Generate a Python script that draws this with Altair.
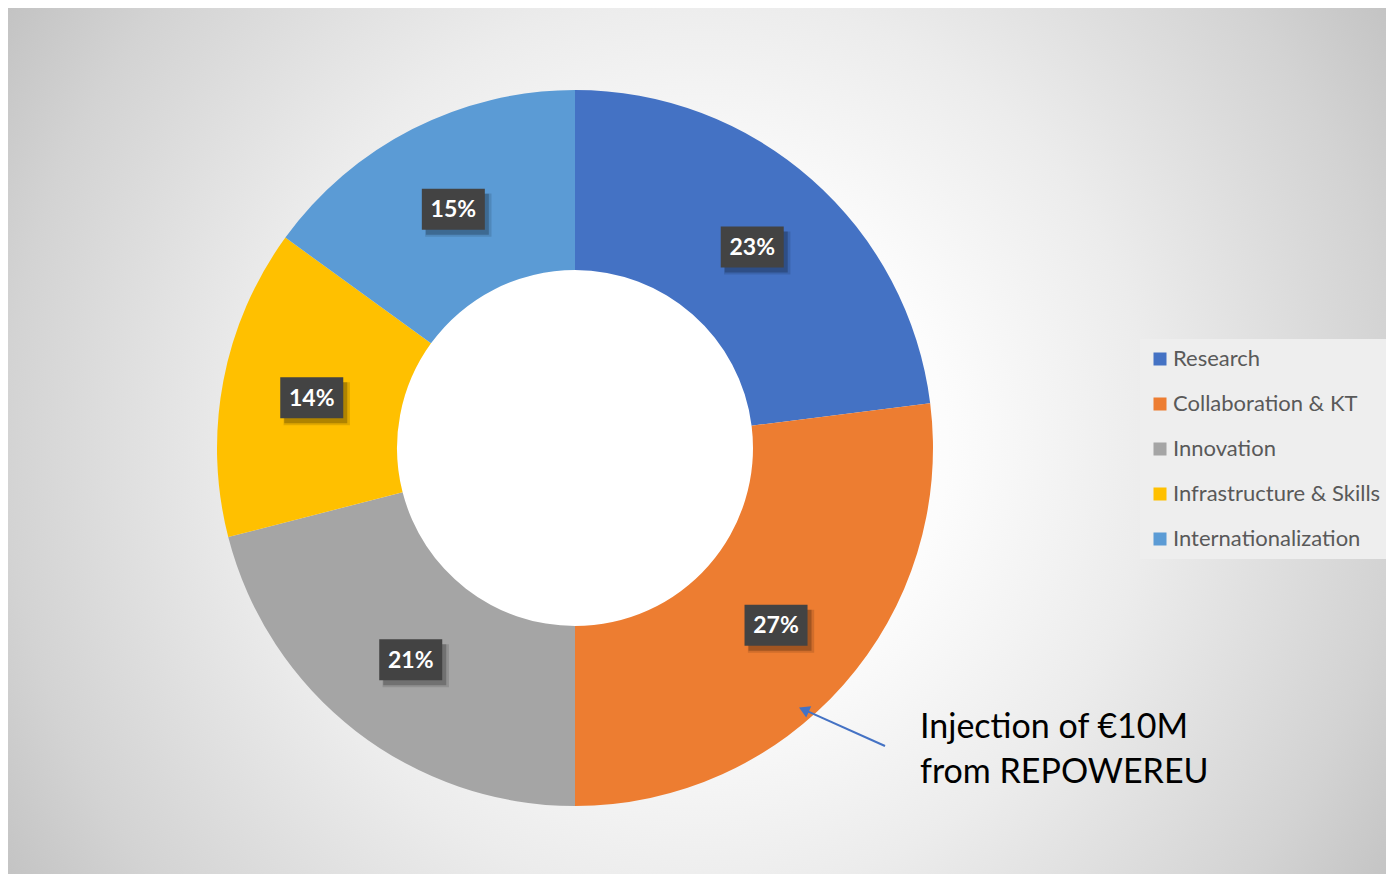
import altair as alt
import pandas as pd

# ---- data ----
categories = ["Research", "Collaboration & KT", "Innovation", "Infrastructure & Skills", "Internationalization"]
values = [23, 27, 21, 14, 15]
colors = ["#4472C4", "#ED7D31", "#A5A5A5", "#FFC000", "#5B9BD5"]

annotation_lines = ["Injection of €10M", "from REPOWEREU"]

# ---- layout (chart pixel space) ----
W, H = 1378, 866
CX, CY = 567, 440          # donut centre
R_IN, R_OUT = 178, 358
R_LAB = (R_IN + R_OUT) / 2

df = pd.DataFrame({"cat": categories, "value": values, "order": list(range(len(values)))})

xs = alt.Scale(domain=[0, W], range=[0, W], nice=False, zero=False)
ys = alt.Scale(domain=[0, H], range=[0, H], nice=False, zero=False)

# background radial gradient
GX, GY, GR = 693, 438, 820
bg = alt.Chart(pd.DataFrame({"a": [0]})).mark_rect(
    color=alt.Gradient(
        gradient="radial", x1=0.5, y1=0.5, x2=0.5, y2=0.5, r1=0, r2=0.5,
        stops=[
            alt.GradientStop(offset=0, color="#ffffff"),
            alt.GradientStop(offset=0.3, color="#fcfcfc"),
            alt.GradientStop(offset=0.55, color="#ececec"),
            alt.GradientStop(offset=0.85, color="#d3d3d3"),
            alt.GradientStop(offset=1, color="#c3c3c3"),
        ],
    )
).encode(
    x=alt.value(GX - GR), x2=alt.value(GX + GR),
    y=alt.value(GY - GR), y2=alt.value(GY + GR),
)

hole = alt.Chart(pd.DataFrame({"a": [0]})).mark_arc(
    innerRadius=0, outerRadius=R_IN, color="#ffffff"
).encode(theta=alt.value(6.2832), x=alt.value(CX), y=alt.value(CY))

arcs = alt.Chart(df).mark_arc(innerRadius=R_IN, outerRadius=R_OUT).encode(
    theta=alt.Theta("value:Q", stack=True),
    order=alt.Order("order:Q"),
    color=alt.Color(
        "cat:N",
        scale=alt.Scale(domain=categories, range=colors),
        sort=categories,
        legend=alt.Legend(
            title=None, orient="none", legendX=1132, legendY=331,
            symbolType="square", symbolSize=169, symbolStrokeWidth=0,
            labelFont="Lato", labelFontSize=22, labelColor="#595959",
            labelOffset=2, labelLimit=400, rowPadding=23, padding=9,
            fillColor="#eeeeee",
        ),
    ),
    x=alt.value(CX), y=alt.value(CY),
)

base = alt.Chart(df).transform_window(
    cum="sum(value)", sort=[alt.SortField("order")], frame=[None, 0]
).transform_joinaggregate(total="sum(value)").transform_calculate(
    mid="2*PI*(datum.cum - datum.value/2)/datum.total",
    px=f"{CX} + {R_LAB}*sin(datum.mid)",
    py=f"{CY} - {R_LAB}*cos(datum.mid)",
    label="datum.value + '%'",
)

box_path = "M-1,-0.651L1,-0.651L1,0.651L-1,0.651Z"
enc = dict(x=alt.X("px:Q", scale=xs, axis=None), y=alt.Y("py:Q", scale=ys, axis=None))
shadow2 = base.mark_point(shape=box_path, size=4400, filled=True, color="#000000",
                          opacity=0.12, strokeWidth=0, xOffset=5, yOffset=6).encode(**enc)
shadow = base.mark_point(shape=box_path, size=3969, filled=True, color="#000000",
                         opacity=0.22, strokeWidth=0, xOffset=4, yOffset=5).encode(**enc)
boxes = base.mark_point(shape=box_path, size=3969, filled=True, color="#434343",
                        opacity=1, strokeWidth=0).encode(**enc)
texts = base.mark_text(font="Lato", fontSize=23, fontWeight="bold", color="#ffffff",
                       align="center", baseline="middle", dy=1).encode(
    text="label:N", **enc)

# annotation arrow
arrow_df = pd.DataFrame({"x": [877], "y": [738], "x2": [797.5], "y2": [702.4]})
arrow_line = alt.Chart(arrow_df).mark_rule(color="#4472C4", strokeWidth=2).encode(
    x=alt.X("x:Q", scale=xs, axis=None), y=alt.Y("y:Q", scale=ys, axis=None),
    x2="x2:Q", y2="y2:Q")
arrow_head = alt.Chart(arrow_df).mark_point(shape="triangle", size=150, filled=True,
                                            color="#4472C4", strokeWidth=0, angle=294,
                                            opacity=1).encode(
    x=alt.X("x2:Q", scale=xs, axis=None), y=alt.Y("y2:Q", scale=ys, axis=None))

ann_df = pd.DataFrame({"t": annotation_lines, "x": [912, 912], "y": [720, 765]})
ann = alt.Chart(ann_df).mark_text(font="Lato", fontSize=34, color="#000000",
                                  align="left", baseline="middle").encode(
    x=alt.X("x:Q", scale=xs, axis=None), y=alt.Y("y:Q", scale=ys, axis=None), text="t:N")

chart = alt.layer(bg, hole, arcs, shadow2, shadow, boxes, texts, arrow_line, arrow_head, ann).properties(
    width=W, height=H, padding=0, autosize=alt.AutoSizeParams(type="none")
).configure_view(stroke=None).configure(background="#ffffff")

chart.save("out.html", embed_options={"renderer": "svg", "actions": False})
